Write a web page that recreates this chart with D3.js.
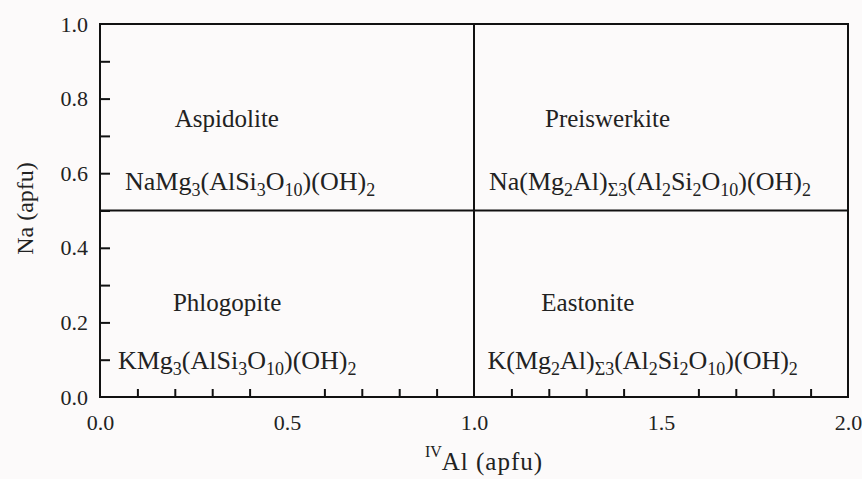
<!DOCTYPE html>
<html>
<head>
<meta charset="utf-8">
<script src="https://cdn.jsdelivr.net/npm/d3@7"></script>
<style>
  body { margin: 0; background: #fcfafa; }
</style>
</head>
<body>
<div class="chart"></div>
<script>
// axis values
const xLabelTicks = [0, 0.5, 1.0, 1.5, 2.0];
const xMinorTicks = [0.1, 0.2, 0.3, 0.4, 0.6, 0.7, 0.8, 0.9, 1.1, 1.2, 1.3, 1.4, 1.6, 1.7, 1.8, 1.9];
const yLabelTicks = [0, 0.2, 0.4, 0.6, 0.8, 1.0];
const yMinorTicks = [0.1, 0.2, 0.3, 0.4, 0.5, 0.6, 0.7, 0.8, 0.9];

// field boundaries
const xSplit = 1.0;
const ySplit = 0.5;

// mineral fields: name, formula (_ marks a subscript)
const names = ["Aspidolite", "Preiswerkite", "Phlogopite", "Eastonite"];
const formulas = [
    "NaMg_3(AlSi_3O_10)(OH)_2",
    "Na(Mg_2Al)_Σ3(Al_2Si_2O_10)(OH)_2",
    "KMg_3(AlSi_3O_10)(OH)_2",
    "K(Mg_2Al)_Σ3(Al_2Si_2O_10)(OH)_2"
];
// anchors in data units
const nameX = [0.2, 1.19, 0.195, 1.18];
const formulaX = [0.067, 1.04, 0.048, 1.036];
const nameY = [0.725, 0.725, 0.23, 0.23];
const formulaY = [0.555, 0.555, 0.075, 0.075];

const W = 862, H = 479;
const margin = {top: 24, right: 14, bottom: 82, left: 100};
const serif = '"Liberation Serif"';

const svg = d3.select(".chart").append("svg")
    .attr("width", W)
    .attr("height", H);

const x = d3.scaleLinear().domain([0, 2]).range([margin.left, W - margin.right]);
const y = d3.scaleLinear().domain([0, 1]).range([H - margin.bottom, margin.top]);

const ink = "#111";

// minor ticks pointing inward
svg.append("g")
    .attr("transform", `translate(0, ${y(0)})`)
    .call(d3.axisBottom(x).tickValues(xMinorTicks).tickSize(-8).tickFormat(""))
    .call(g => g.select(".domain").remove())
    .call(g => g.selectAll("line").attr("stroke", ink).attr("stroke-width", 2));

svg.append("g")
    .attr("transform", `translate(${x(0)}, 0)`)
    .call(d3.axisLeft(y).tickValues(yMinorTicks).tickSize(-10).tickFormat(""))
    .call(g => g.select(".domain").remove())
    .call(g => g.selectAll("line").attr("stroke", ink).attr("stroke-width", 2));

// tick labels
svg.append("g")
    .attr("transform", `translate(0, ${y(0)})`)
    .call(d3.axisBottom(x).tickValues(xLabelTicks).tickSize(0).tickFormat(d3.format(".1f")))
    .attr("font-family", null)
    .attr("font-size", 22)
    .call(g => g.select(".domain").remove())
    .call(g => g.selectAll("text")
        .attr("y", 33).attr("dy", null)
        .attr("fill", "#222")
        .style("font-family", serif));

svg.append("g")
    .attr("transform", `translate(${x(0)}, 0)`)
    .call(d3.axisLeft(y).tickValues(yLabelTicks).tickSize(0).tickPadding(12).tickFormat(d3.format(".1f")))
    .attr("font-family", null)
    .attr("font-size", 22)
    .call(g => g.select(".domain").remove())
    .call(g => g.selectAll("text")
        .attr("fill", "#222")
        .style("font-family", serif));

// frame
svg.append("rect")
    .attr("x", x(0))
    .attr("y", y(1))
    .attr("width", x(2) - x(0))
    .attr("height", y(0) - y(1))
    .attr("fill", "none")
    .attr("stroke", ink)
    .attr("stroke-width", 2);

// field dividers
svg.append("line")
    .attr("x1", x(xSplit)).attr("x2", x(xSplit))
    .attr("y1", y(0)).attr("y2", y(1))
    .attr("stroke", ink).attr("stroke-width", 2);

svg.append("line")
    .attr("x1", x(0)).attr("x2", x(2))
    .attr("y1", y(ySplit)).attr("y2", y(ySplit))
    .attr("stroke", ink).attr("stroke-width", 2);

// mineral names
svg.selectAll("text.name")
    .data(names)
    .enter()
    .append("text")
    .attr("class", "name")
    .attr("x", (d, i) => x(nameX[i]))
    .attr("y", (d, i) => y(nameY[i]))
    .attr("fill", "#222")
    .attr("font-size", 25)
    .style("font-family", serif)
    .text(d => d);

// formulas with subscripts
function addFormula(sel, f) {
    const parts = f.split("_");
    parts.forEach((p, k) => {
        if (k === 0) {
            sel.append("tspan").text(p);
            return;
        }
        // subscript is the leading run of digits / sigma
        const m = p.match(/^(Σ?\d+)(.*)$/);
        sel.append("tspan")
            .attr("dy", 6)
            .attr("font-size", 18)
            .text(m[1]);
        if (m[2]) {
            sel.append("tspan")
                .attr("dy", -6)
                .text(m[2]);
        }
    });
}

svg.selectAll("text.formula")
    .data(formulas)
    .enter()
    .append("text")
    .attr("class", "formula")
    .attr("x", (d, i) => x(formulaX[i]))
    .attr("y", (d, i) => y(formulaY[i]))
    .attr("fill", "#222")
    .attr("font-size", 26)
    .style("font-family", serif)
    .each(function(d) { addFormula(d3.select(this), d); });

// axis titles
const xt = svg.append("text")
    .attr("x", x(1) + 10)
    .attr("y", 470)
    .attr("text-anchor", "middle")
    .attr("fill", "#222")
    .attr("font-size", 25)
    .style("font-family", serif);
xt.append("tspan").attr("dy", -13).attr("font-size", 16).text("IV");
xt.append("tspan").attr("dy", 13).attr("letter-spacing", 1).text("Al (apfu)");

svg.append("text")
    .attr("transform", `translate(33, ${y(0.5) - 2}) rotate(-90)`)
    .attr("text-anchor", "middle")
    .attr("fill", "#222")
    .attr("font-size", 24)
    .style("font-family", serif)
    .text("Na (apfu)");
</script>
</body>
</html>
